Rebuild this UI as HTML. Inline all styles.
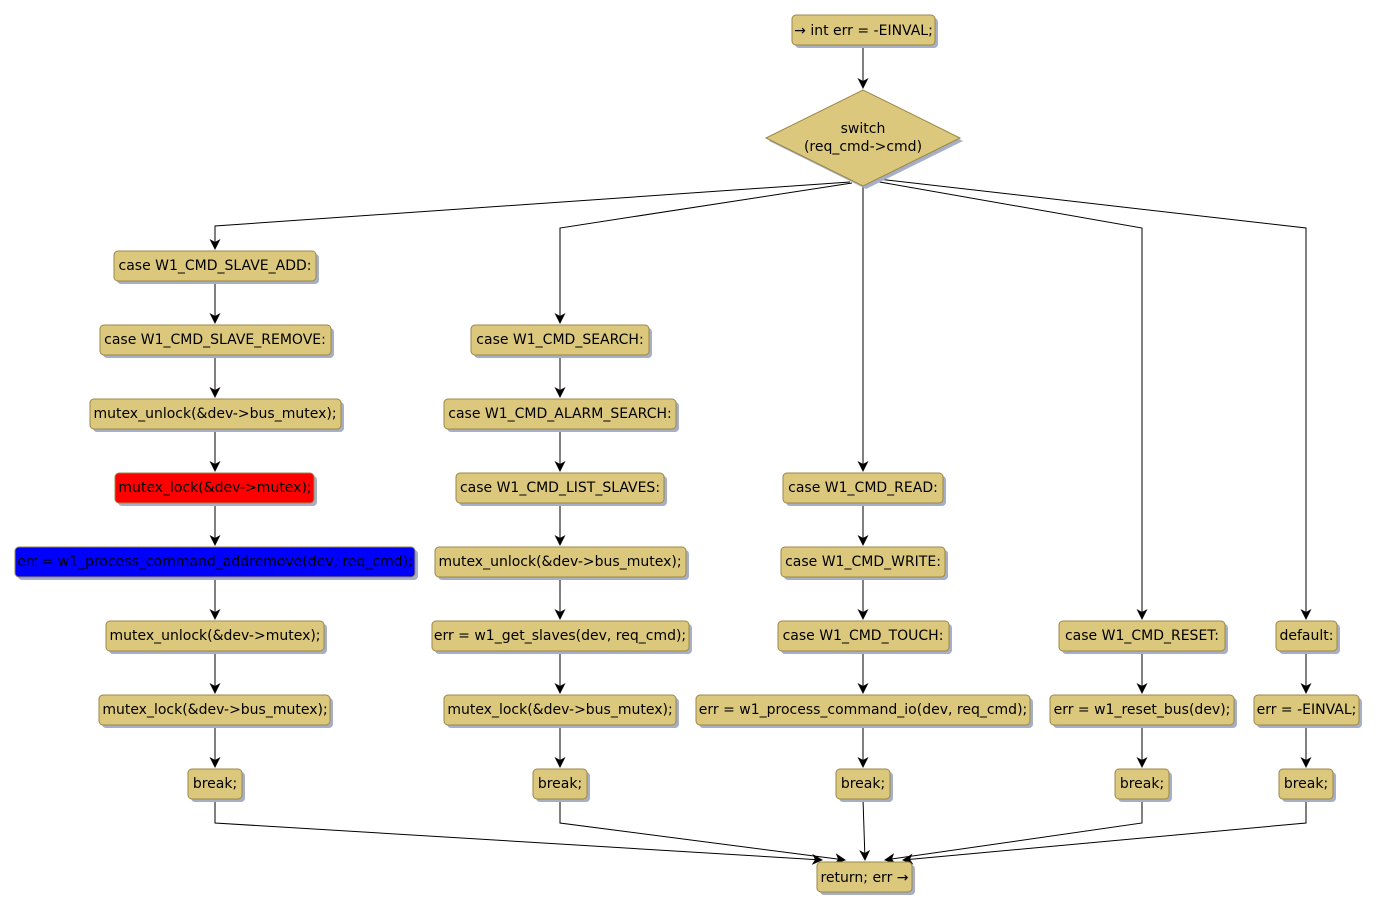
<!DOCTYPE html>
<html><head><meta charset="utf-8"><style>
html,body{margin:0;padding:0;background:#fff;}
svg{display:block;}
text{font-family:"DejaVu Sans","Liberation Sans",sans-serif;font-size:14px;fill:#000;}
.b{stroke:#9b8746;stroke-width:1;}
.s{fill:#a6afc7;}
.l{stroke:#000;stroke-width:1;fill:none;}
</style></head><body>
<svg width="1377" height="911" viewBox="0 0 1377 911" xmlns="http://www.w3.org/2000/svg">
<defs>
<marker id="a" markerWidth="12" markerHeight="12" refX="10" refY="5.5" orient="auto" markerUnits="userSpaceOnUse">
<path d="M0,0 L11,5.5 L0,11 L3,5.5 z" fill="#000"/>
</marker>
</defs>
<g id="lines">
<path class="l" d="M863,45 V88" marker-end="url(#a)"/>
<path class="l" d="M850,182 L215,226 V249" marker-end="url(#a)"/>
<path class="l" d="M852,183 L560,228 V323" marker-end="url(#a)"/>
<path class="l" d="M863,186 V471" marker-end="url(#a)"/>
<path class="l" d="M874,181 L1142,228 V619" marker-end="url(#a)"/>
<path class="l" d="M878,179 L1306,228 V619" marker-end="url(#a)"/>
<path class="l" d="M215,281 V323" marker-end="url(#a)"/>
<path class="l" d="M215,355 V397" marker-end="url(#a)"/>
<path class="l" d="M215,429 V471" marker-end="url(#a)"/>
<path class="l" d="M215,503 V545" marker-end="url(#a)"/>
<path class="l" d="M215,577 V619" marker-end="url(#a)"/>
<path class="l" d="M215,651 V693" marker-end="url(#a)"/>
<path class="l" d="M215,725 V767" marker-end="url(#a)"/>
<path class="l" d="M560,355 V397" marker-end="url(#a)"/>
<path class="l" d="M560,429 V471" marker-end="url(#a)"/>
<path class="l" d="M560,503 V545" marker-end="url(#a)"/>
<path class="l" d="M560,577 V619" marker-end="url(#a)"/>
<path class="l" d="M560,651 V693" marker-end="url(#a)"/>
<path class="l" d="M560,725 V767" marker-end="url(#a)"/>
<path class="l" d="M863,503 V545" marker-end="url(#a)"/>
<path class="l" d="M863,577 V619" marker-end="url(#a)"/>
<path class="l" d="M863,651 V693" marker-end="url(#a)"/>
<path class="l" d="M863,725 V767" marker-end="url(#a)"/>
<path class="l" d="M1142,651 V693" marker-end="url(#a)"/>
<path class="l" d="M1142,725 V767" marker-end="url(#a)"/>
<path class="l" d="M1306,651 V693" marker-end="url(#a)"/>
<path class="l" d="M1306,725 V767" marker-end="url(#a)"/>
<path class="l" d="M215,799 V823 L822,860" marker-end="url(#a)"/>
<path class="l" d="M560,799 V823 L845,860" marker-end="url(#a)"/>
<path class="l" d="M863,799 L865,860" marker-end="url(#a)"/>
<path class="l" d="M1142,799 V823 L885,860" marker-end="url(#a)"/>
<path class="l" d="M1306,799 V823 L903,860" marker-end="url(#a)"/>
</g>
<polygon class="s" points="769,141 866,93 963,141 866,189"/>
<polygon class="b" fill="#dbc87c" points="766,138 863,90 960,138 863,186"/>
<text x="863" y="133" text-anchor="middle">switch</text>
<text x="863" y="151" text-anchor="middle">(req_cmd-&gt;cmd)</text>
<g>
<rect class="s" x="795" y="18" width="143" height="30" rx="4"/><rect class="b" fill="#dbc87c" x="792" y="15" width="143" height="30" rx="4"/><text x="863.5" y="35" text-anchor="middle">→ int err = -EINVAL;</text>

<rect class="s" x="117" y="254" width="202" height="30" rx="4"/><rect class="b" fill="#dbc87c" x="114" y="251" width="202" height="30" rx="4"/><text x="215" y="270" text-anchor="middle">case W1_CMD_SLAVE_ADD:</text>
<rect class="s" x="103" y="328" width="231" height="30" rx="4"/><rect class="b" fill="#dbc87c" x="100" y="325" width="231" height="30" rx="4"/><text x="215" y="344" text-anchor="middle">case W1_CMD_SLAVE_REMOVE:</text>
<rect class="s" x="93" y="402" width="251" height="30" rx="4"/><rect class="b" fill="#dbc87c" x="90" y="399" width="251" height="30" rx="4"/><text x="215" y="418" text-anchor="middle">mutex_unlock(&amp;dev-&gt;bus_mutex);</text>
<rect class="s" x="118" y="476" width="199" height="30" rx="4"/><rect class="b" fill="#ff0000" x="115" y="473" width="199" height="30" rx="4"/><text x="215" y="492" text-anchor="middle">mutex_lock(&amp;dev-&gt;mutex);</text>
<rect class="s" x="18" y="550" width="400" height="30" rx="4"/><rect class="b" fill="#0000ff" x="15" y="547" width="400" height="30" rx="4"/><text x="215" y="566" text-anchor="middle">err = w1_process_command_addremove(dev, req_cmd);</text>
<rect class="s" x="109" y="624" width="218" height="30" rx="4"/><rect class="b" fill="#dbc87c" x="106" y="621" width="218" height="30" rx="4"/><text x="215" y="640" text-anchor="middle">mutex_unlock(&amp;dev-&gt;mutex);</text>
<rect class="s" x="102" y="698" width="231" height="30" rx="4"/><rect class="b" fill="#dbc87c" x="99" y="695" width="231" height="30" rx="4"/><text x="215" y="714" text-anchor="middle">mutex_lock(&amp;dev-&gt;bus_mutex);</text>
<rect class="s" x="191" y="772" width="54" height="30" rx="4"/><rect class="b" fill="#dbc87c" x="188" y="769" width="54" height="30" rx="4"/><text x="215" y="788" text-anchor="middle">break;</text>

<rect class="s" x="474" y="328" width="178" height="30" rx="4"/><rect class="b" fill="#dbc87c" x="471" y="325" width="178" height="30" rx="4"/><text x="560" y="344" text-anchor="middle">case W1_CMD_SEARCH:</text>
<rect class="s" x="447" y="402" width="232" height="30" rx="4"/><rect class="b" fill="#dbc87c" x="444" y="399" width="232" height="30" rx="4"/><text x="560" y="418" text-anchor="middle">case W1_CMD_ALARM_SEARCH:</text>
<rect class="s" x="459" y="476" width="208" height="30" rx="4"/><rect class="b" fill="#dbc87c" x="456" y="473" width="208" height="30" rx="4"/><text x="560" y="492" text-anchor="middle">case W1_CMD_LIST_SLAVES:</text>
<rect class="s" x="438" y="550" width="251" height="30" rx="4"/><rect class="b" fill="#dbc87c" x="435" y="547" width="251" height="30" rx="4"/><text x="560" y="566" text-anchor="middle">mutex_unlock(&amp;dev-&gt;bus_mutex);</text>
<rect class="s" x="435" y="624" width="257" height="30" rx="4"/><rect class="b" fill="#dbc87c" x="432" y="621" width="257" height="30" rx="4"/><text x="560" y="640" text-anchor="middle">err = w1_get_slaves(dev, req_cmd);</text>
<rect class="s" x="447" y="698" width="232" height="30" rx="4"/><rect class="b" fill="#dbc87c" x="444" y="695" width="232" height="30" rx="4"/><text x="560" y="714" text-anchor="middle">mutex_lock(&amp;dev-&gt;bus_mutex);</text>
<rect class="s" x="536" y="772" width="54" height="30" rx="4"/><rect class="b" fill="#dbc87c" x="533" y="769" width="54" height="30" rx="4"/><text x="560" y="788" text-anchor="middle">break;</text>

<rect class="s" x="786" y="476" width="160" height="30" rx="4"/><rect class="b" fill="#dbc87c" x="783" y="473" width="160" height="30" rx="4"/><text x="863" y="492" text-anchor="middle">case W1_CMD_READ:</text>
<rect class="s" x="784" y="550" width="164" height="30" rx="4"/><rect class="b" fill="#dbc87c" x="781" y="547" width="164" height="30" rx="4"/><text x="863" y="566" text-anchor="middle">case W1_CMD_WRITE:</text>
<rect class="s" x="781" y="624" width="171" height="30" rx="4"/><rect class="b" fill="#dbc87c" x="778" y="621" width="171" height="30" rx="4"/><text x="863" y="640" text-anchor="middle">case W1_CMD_TOUCH:</text>
<rect class="s" x="699" y="698" width="334" height="30" rx="4"/><rect class="b" fill="#dbc87c" x="696" y="695" width="334" height="30" rx="4"/><text x="863" y="714" text-anchor="middle">err = w1_process_command_io(dev, req_cmd);</text>
<rect class="s" x="839" y="772" width="54" height="30" rx="4"/><rect class="b" fill="#dbc87c" x="836" y="769" width="54" height="30" rx="4"/><text x="863" y="788" text-anchor="middle">break;</text>

<rect class="s" x="1062" y="624" width="166" height="30" rx="4"/><rect class="b" fill="#dbc87c" x="1059" y="621" width="166" height="30" rx="4"/><text x="1142" y="640" text-anchor="middle">case W1_CMD_RESET:</text>
<rect class="s" x="1053" y="698" width="184" height="30" rx="4"/><rect class="b" fill="#dbc87c" x="1050" y="695" width="184" height="30" rx="4"/><text x="1142" y="714" text-anchor="middle">err = w1_reset_bus(dev);</text>
<rect class="s" x="1118" y="772" width="54" height="30" rx="4"/><rect class="b" fill="#dbc87c" x="1115" y="769" width="54" height="30" rx="4"/><text x="1142" y="788" text-anchor="middle">break;</text>

<rect class="s" x="1279" y="624" width="61" height="30" rx="4"/><rect class="b" fill="#dbc87c" x="1276" y="621" width="61" height="30" rx="4"/><text x="1306.5" y="640" text-anchor="middle">default:</text>
<rect class="s" x="1257" y="698" width="105" height="30" rx="4"/><rect class="b" fill="#dbc87c" x="1254" y="695" width="105" height="30" rx="4"/><text x="1306.5" y="714" text-anchor="middle">err = -EINVAL;</text>
<rect class="s" x="1282" y="772" width="54" height="30" rx="4"/><rect class="b" fill="#dbc87c" x="1279" y="769" width="54" height="30" rx="4"/><text x="1306" y="788" text-anchor="middle">break;</text>

<rect class="s" x="820" y="865" width="95" height="30" rx="4"/><rect class="b" fill="#dbc87c" x="817" y="862" width="95" height="30" rx="4"/><text x="864.5" y="882" text-anchor="middle">return; err →</text>
</g>
</svg>
</body></html>
